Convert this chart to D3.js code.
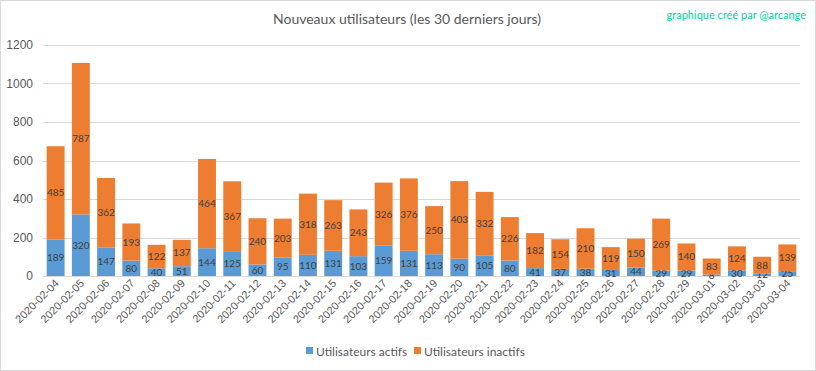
<!DOCTYPE html>
<html>
<head>
<meta charset="utf-8">
<script src="https://cdn.jsdelivr.net/npm/d3@7"></script>
<style>
  body { margin: 0; background: #fff; }
  svg { display: block; font-family: Lato, "Open Sans", sans-serif; }
</style>
</head>
<body>
<div id="chart"></div>
<script>
// Nouveaux utilisateurs - stacked bars

const dates = ["2020-02-04","2020-02-05","2020-02-06","2020-02-07","2020-02-08","2020-02-09","2020-02-10",
  "2020-02-11","2020-02-12","2020-02-13","2020-02-14","2020-02-15","2020-02-16","2020-02-17","2020-02-18",
  "2020-02-19","2020-02-20","2020-02-21","2020-02-22","2020-02-23","2020-02-24","2020-02-25","2020-02-26",
  "2020-02-27","2020-02-28","2020-02-29","2020-03-01","2020-03-02","2020-03-03","2020-03-04"];
const actifs = [189,320,147,80,40,51,144,125,60,95,110,131,103,159,131,113,90,105,80,41,37,38,31,44,29,29,8,30,12,25];
const inactifs = [485,787,362,193,122,137,464,367,240,203,318,263,243,326,376,250,403,332,226,182,154,210,119,150,269,140,83,124,88,139];
const seriesNames = ["Utilisateurs actifs", "Utilisateurs inactifs"];
const yTicks = [0, 200, 400, 600, 800, 1000, 1200];

const width = 816;
const height = 371;
const margin = {top: 45, right: 16, bottom: 95, left: 43};
const colors = ["#5b9bd5", "#ed7d31"];

const svg = d3.select("#chart")
    .append("svg")
    .attr("width", width)
    .attr("height", height);

svg.append("rect")
    .attr("x", 0.5).attr("y", 0.5)
    .attr("width", width - 1).attr("height", height - 1)
    .attr("fill", "#fff")
    .attr("stroke", "#d9d9d9");

const innerWidth = width - margin.left - margin.right;
const innerHeight = height - margin.top - margin.bottom;

const inner = svg.append("g")
    .attr("transform", `translate(${margin.left}, ${margin.top})`);

const rows = dates.map((d, i) => ({date: d, actifs: actifs[i], inactifs: inactifs[i]}));
const stacked = d3.stack().keys(["actifs", "inactifs"])(rows);

const xScale = d3.scaleBand()
    .domain(dates)
    .range([0, innerWidth])
    .paddingInner(0.29)
    .paddingOuter(0.145);

const yScale = d3.scaleLinear()
    .domain([0, 1200])
    .range([innerHeight, 0]);

// grid lines
inner.append("g")
    .selectAll("line")
    .data(yTicks)
    .join("line")
    .attr("x1", 0)
    .attr("x2", innerWidth)
    .attr("y1", d => Math.round(yScale(d)) + 0.5)
    .attr("y2", d => Math.round(yScale(d)) + 0.5)
    .attr("stroke", "#d9d9d9");

// y axis labels
const yAxis = d3.axisLeft(yScale).tickValues(yTicks).tickFormat(d3.format("d")).tickSize(0).tickPadding(10);
inner.append("g")
    .call(yAxis)
    .call(g => g.select(".domain").remove())
    .selectAll("text")
    .attr("fill", "#595959")
    .style("font-size", "12px");

// bars
const layers = inner.selectAll(".layer")
    .data(stacked)
    .join("g")
    .attr("fill", (d, i) => colors[i]);

layers.selectAll("rect")
    .data(d => d)
    .join("rect")
    .attr("x", d => xScale(d.data.date))
    .attr("y", d => yScale(d[1]))
    .attr("width", xScale.bandwidth())
    .attr("height", d => yScale(d[0]) - yScale(d[1]));

// value labels
layers.selectAll("text")
    .data(d => d)
    .join("text")
    .attr("x", d => xScale(d.data.date) + xScale.bandwidth() / 2)
    .attr("y", d => (yScale(d[0]) + yScale(d[1])) / 2)
    .attr("dy", "0.35em")
    .attr("text-anchor", "middle")
    .attr("fill", "#404040")
    .style("font-size", "10px")
    .text(d => d[1] - d[0]);

// x axis
const xAxis = d3.axisBottom(xScale).tickSize(0).tickPadding(0);
inner.append("g")
    .attr("transform", `translate(0, ${innerHeight})`)
    .call(xAxis)
    .call(g => g.select(".domain").remove())
    .selectAll("text")
    .attr("fill", "#595959")
    .style("font-size", "11px")
    .attr("text-anchor", "end")
    .attr("dy", "0")
    .attr("transform", "translate(4, 8) rotate(-45)");

// title
svg.append("text")
    .attr("x", 407)
    .attr("y", 24)
    .attr("text-anchor", "middle")
    .attr("fill", "#595959")
    .style("font-size", "14px")
    .text("Nouveaux utilisateurs (les 30 derniers jours)");

svg.append("text")
    .attr("x", 806)
    .attr("y", 19)
    .attr("text-anchor", "end")
    .attr("fill", "#00d59e")
    .style("font-size", "11px")
    .text("graphique créé par @arcange");

// legend
const legend = svg.append("g");
const legendX = [306, 414];
seriesNames.forEach((name, i) => {
    const g = legend.append("g").attr("transform", `translate(${legendX[i]}, 352)`);
    g.append("rect")
        .attr("x", 0).attr("y", -5)
        .attr("width", 7).attr("height", 7)
        .attr("fill", colors[i]);
    g.append("text")
        .attr("x", 10)
        .attr("y", 0)
        .attr("dy", "0.35em")
        .attr("fill", "#595959")
        .style("font-size", "12px")
        .text(name);
});
</script>
</body>
</html>
